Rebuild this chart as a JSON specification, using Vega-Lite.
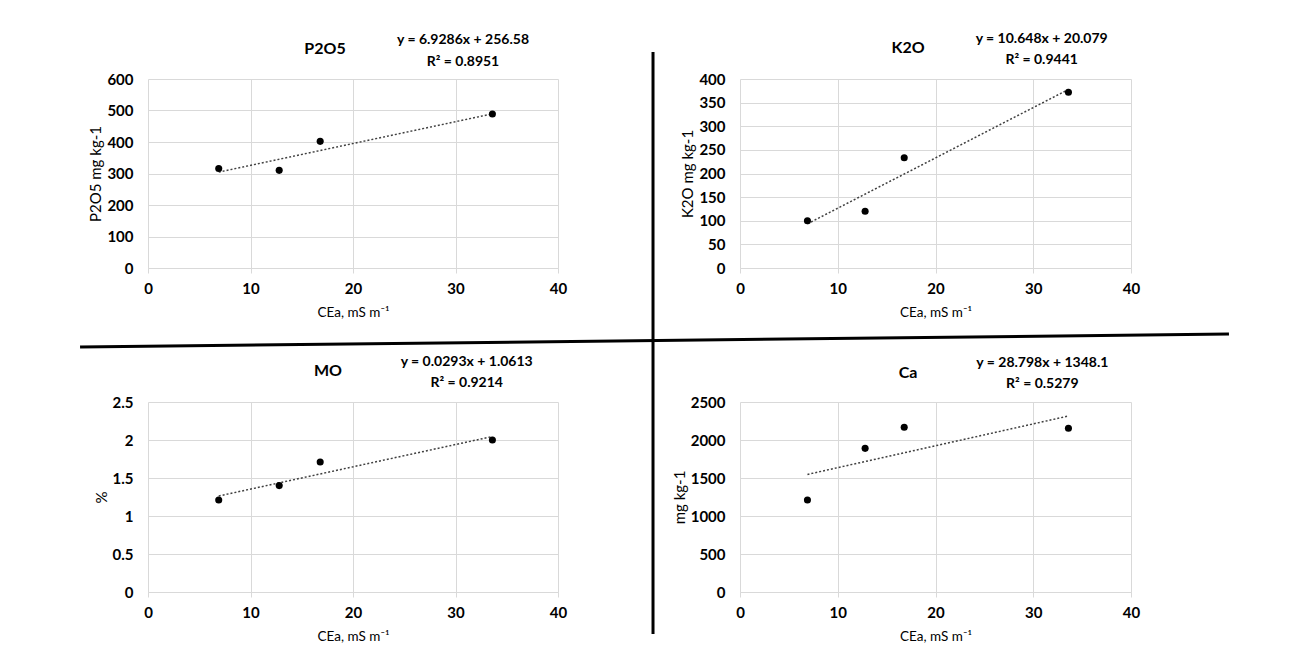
{
  "$schema": "https://vega.github.io/schema/vega-lite/v6.json",
  "background": "white",
  "padding": {"left": 78, "top": 31, "right": 5, "bottom": 5},
  "bounds": "flush",
  "columns": 2,
  "spacing": {"row": 134, "column": 182},
  "datasets": {
    "p2o5": [{"cea": 6.9, "val": 316}, {"cea": 12.8, "val": 310}, {"cea": 16.8, "val": 402}, {"cea": 33.6, "val": 489}],
    "p2o5_trend": [{"cea": 6.9, "val": 304.4}, {"cea": 33.6, "val": 489.4}],
    "k2o": [{"cea": 6.9, "val": 100}, {"cea": 12.8, "val": 120}, {"cea": 16.8, "val": 233.5}, {"cea": 33.6, "val": 372}],
    "k2o_trend": [{"cea": 6.9, "val": 93.5}, {"cea": 33.6, "val": 377.9}],
    "mo": [{"cea": 6.9, "val": 1.21}, {"cea": 12.8, "val": 1.4}, {"cea": 16.8, "val": 1.71}, {"cea": 33.6, "val": 2.0}],
    "mo_trend": [{"cea": 6.9, "val": 1.263}, {"cea": 33.6, "val": 2.046}],
    "ca": [{"cea": 6.9, "val": 1210}, {"cea": 12.8, "val": 1890}, {"cea": 16.8, "val": 2167}, {"cea": 33.6, "val": 2155}],
    "ca_trend": [{"cea": 6.9, "val": 1546.8}, {"cea": 33.6, "val": 2315.7}],
    "one": [{}]
  },
  "concat": [
    {
      "width": 410, "height": 189,
      "layer": [
        {"data": {"name": "p2o5_trend"}, "mark": {"type": "line", "strokeDash": [2, 2], "strokeWidth": 1.5, "color": "#404040"}, "encoding": {
          "x": {"field": "cea", "type": "quantitative", "scale": {"domain": [0, 40], "nice": false}, "axis": {"values": [0, 10, 20, 30, 40], "format": "d", "title": "CEa, mS m⁻¹"}},
          "y": {"field": "val", "type": "quantitative", "scale": {"domain": [0, 600], "nice": false}, "axis": {"values": [0, 100, 200, 300, 400, 500, 600], "format": "d", "titlePadding": 3, "title": "P2O5 mg kg-1"}}}},
        {"data": {"name": "p2o5"}, "mark": {"type": "circle", "size": 50, "color": "black", "opacity": 1}, "encoding": {
          "x": {"field": "cea", "type": "quantitative", "axis": {"values": [0, 10, 20, 30, 40], "format": "d", "title": "CEa, mS m⁻¹"}},
          "y": {"field": "val", "type": "quantitative", "axis": {"values": [0, 100, 200, 300, 400, 500, 600], "format": "d", "titlePadding": 3, "title": "P2O5 mg kg-1"}}}},
        {"data": {"name": "one"}, "mark": {"type": "text", "fontSize": 16}, "encoding": {
          "x": {"datum": 17.27, "axis": {"values": [0, 10, 20, 30, 40], "format": "d", "title": "CEa, mS m⁻¹"}},
          "y": {"datum": 695.2, "axis": {"values": [0, 100, 200, 300, 400, 500, 600], "format": "d", "titlePadding": 3, "title": "P2O5 mg kg-1"}},
          "text": {"value": "P2O5"}}},
        {"data": {"name": "one"}, "mark": {"type": "text"}, "encoding": {
          "x": {"datum": 30.73, "axis": {"values": [0, 10, 20, 30, 40], "format": "d", "title": "CEa, mS m⁻¹"}},
          "y": {"datum": 723.8, "axis": {"values": [0, 100, 200, 300, 400, 500, 600], "format": "d", "titlePadding": 3, "title": "P2O5 mg kg-1"}},
          "text": {"value": "y = 6.9286x + 256.58"}}},
        {"data": {"name": "one"}, "mark": {"type": "text"}, "encoding": {
          "x": {"datum": 30.73, "axis": {"values": [0, 10, 20, 30, 40], "format": "d", "title": "CEa, mS m⁻¹"}},
          "y": {"datum": 654, "axis": {"values": [0, 100, 200, 300, 400, 500, 600], "format": "d", "titlePadding": 3, "title": "P2O5 mg kg-1"}},
          "text": {"value": "R² = 0.8951"}}},
        {"data": {"name": "one"}, "mark": {"type": "rule", "color": "black", "strokeWidth": 3}, "encoding": {
          "x": {"datum": 49.27, "axis": {"values": [0, 10, 20, 30, 40], "format": "d", "title": "CEa, mS m⁻¹"}},
          "x2": {"datum": 49.27},
          "y": {"datum": 685.7, "axis": {"values": [0, 100, 200, 300, 400, 500, 600], "format": "d", "titlePadding": 3, "title": "P2O5 mg kg-1"}},
          "y2": {"datum": -1161.9}}},
        {"data": {"name": "one"}, "mark": {"type": "rule", "color": "black", "strokeWidth": 3}, "encoding": {
          "x": {"datum": -6.63, "axis": {"values": [0, 10, 20, 30, 40], "format": "d", "title": "CEa, mS m⁻¹"}},
          "x2": {"datum": 105.46},
          "y": {"datum": -250.8, "axis": {"values": [0, 100, 200, 300, 400, 500, 600], "format": "d", "titlePadding": 3, "title": "P2O5 mg kg-1"}},
          "y2": {"datum": -209.5}}}
      ]
    },
    {
      "width": 391, "height": 189,
      "layer": [
        {"data": {"name": "k2o_trend"}, "mark": {"type": "line", "strokeDash": [2, 2], "strokeWidth": 1.5, "color": "#404040"}, "encoding": {
          "x": {"field": "cea", "type": "quantitative", "scale": {"domain": [0, 40], "nice": false}, "axis": {"values": [0, 10, 20, 30, 40], "format": "d", "title": "CEa, mS m⁻¹"}},
          "y": {"field": "val", "type": "quantitative", "scale": {"domain": [0, 400], "nice": false}, "axis": {"values": [0, 50, 100, 150, 200, 250, 300, 350, 400], "format": "d", "titlePadding": 3, "title": "K2O mg kg-1"}}}},
        {"data": {"name": "k2o"}, "mark": {"type": "circle", "size": 50, "color": "black", "opacity": 1}, "encoding": {
          "x": {"field": "cea", "type": "quantitative", "axis": {"values": [0, 10, 20, 30, 40], "format": "d", "title": "CEa, mS m⁻¹"}},
          "y": {"field": "val", "type": "quantitative", "axis": {"values": [0, 50, 100, 150, 200, 250, 300, 350, 400], "format": "d", "titlePadding": 3, "title": "K2O mg kg-1"}}}},
        {"data": {"name": "one"}, "mark": {"type": "text", "fontSize": 16}, "encoding": {
          "x": {"datum": 17.2, "axis": {"values": [0, 10, 20, 30, 40], "format": "d", "title": "CEa, mS m⁻¹"}},
          "y": {"datum": 466.2, "axis": {"values": [0, 50, 100, 150, 200, 250, 300, 350, 400], "format": "d", "titlePadding": 3, "title": "K2O mg kg-1"}},
          "text": {"value": "K2O"}}},
        {"data": {"name": "one"}, "mark": {"type": "text"}, "encoding": {
          "x": {"datum": 30.86, "axis": {"values": [0, 10, 20, 30, 40], "format": "d", "title": "CEa, mS m⁻¹"}},
          "y": {"datum": 484.7, "axis": {"values": [0, 50, 100, 150, 200, 250, 300, 350, 400], "format": "d", "titlePadding": 3, "title": "K2O mg kg-1"}},
          "text": {"value": "y = 10.648x + 20.079"}}},
        {"data": {"name": "one"}, "mark": {"type": "text"}, "encoding": {
          "x": {"datum": 30.86, "axis": {"values": [0, 10, 20, 30, 40], "format": "d", "title": "CEa, mS m⁻¹"}},
          "y": {"datum": 440.2, "axis": {"values": [0, 50, 100, 150, 200, 250, 300, 350, 400], "format": "d", "titlePadding": 3, "title": "K2O mg kg-1"}},
          "text": {"value": "R² = 0.9441"}}}
      ]
    },
    {
      "width": 410, "height": 190,
      "layer": [
        {"data": {"name": "mo_trend"}, "mark": {"type": "line", "strokeDash": [2, 2], "strokeWidth": 1.5, "color": "#404040"}, "encoding": {
          "x": {"field": "cea", "type": "quantitative", "scale": {"domain": [0, 40], "nice": false}, "axis": {"values": [0, 10, 20, 30, 40], "format": "d", "title": "CEa, mS m⁻¹"}},
          "y": {"field": "val", "type": "quantitative", "scale": {"domain": [0, 2.5], "nice": false}, "axis": {"values": [0, 0.5, 1, 1.5, 2, 2.5], "format": ".1~f", "titlePadding": 3, "title": "%"}}}},
        {"data": {"name": "mo"}, "mark": {"type": "circle", "size": 50, "color": "black", "opacity": 1}, "encoding": {
          "x": {"field": "cea", "type": "quantitative", "axis": {"values": [0, 10, 20, 30, 40], "format": "d", "title": "CEa, mS m⁻¹"}},
          "y": {"field": "val", "type": "quantitative", "axis": {"values": [0, 0.5, 1, 1.5, 2, 2.5], "format": ".1~f", "titlePadding": 3, "title": "%"}}}},
        {"data": {"name": "one"}, "mark": {"type": "text", "fontSize": 16}, "encoding": {
          "x": {"datum": 17.56, "axis": {"values": [0, 10, 20, 30, 40], "format": "d", "title": "CEa, mS m⁻¹"}},
          "y": {"datum": 2.905, "axis": {"values": [0, 0.5, 1, 1.5, 2, 2.5], "format": ".1~f", "titlePadding": 3, "title": "%"}},
          "text": {"value": "MO"}}},
        {"data": {"name": "one"}, "mark": {"type": "text"}, "encoding": {
          "x": {"datum": 31.09, "axis": {"values": [0, 10, 20, 30, 40], "format": "d", "title": "CEa, mS m⁻¹"}},
          "y": {"datum": 3.029, "axis": {"values": [0, 0.5, 1, 1.5, 2, 2.5], "format": ".1~f", "titlePadding": 3, "title": "%"}},
          "text": {"value": "y = 0.0293x + 1.0613"}}},
        {"data": {"name": "one"}, "mark": {"type": "text"}, "encoding": {
          "x": {"datum": 31.09, "axis": {"values": [0, 10, 20, 30, 40], "format": "d", "title": "CEa, mS m⁻¹"}},
          "y": {"datum": 2.753, "axis": {"values": [0, 0.5, 1, 1.5, 2, 2.5], "format": ".1~f", "titlePadding": 3, "title": "%"}},
          "text": {"value": "R² = 0.9214"}}}
      ]
    },
    {
      "width": 391, "height": 190,
      "layer": [
        {"data": {"name": "ca_trend"}, "mark": {"type": "line", "strokeDash": [2, 2], "strokeWidth": 1.5, "color": "#404040"}, "encoding": {
          "x": {"field": "cea", "type": "quantitative", "scale": {"domain": [0, 40], "nice": false}, "axis": {"values": [0, 10, 20, 30, 40], "format": "d", "title": "CEa, mS m⁻¹"}},
          "y": {"field": "val", "type": "quantitative", "scale": {"domain": [0, 2500], "nice": false}, "axis": {"values": [0, 500, 1000, 1500, 2000, 2500], "format": "d", "titlePadding": 3, "title": "mg kg-1"}}}},
        {"data": {"name": "ca"}, "mark": {"type": "circle", "size": 50, "color": "black", "opacity": 1}, "encoding": {
          "x": {"field": "cea", "type": "quantitative", "axis": {"values": [0, 10, 20, 30, 40], "format": "d", "title": "CEa, mS m⁻¹"}},
          "y": {"field": "val", "type": "quantitative", "axis": {"values": [0, 500, 1000, 1500, 2000, 2500], "format": "d", "titlePadding": 3, "title": "mg kg-1"}}}},
        {"data": {"name": "one"}, "mark": {"type": "text", "fontSize": 16}, "encoding": {
          "x": {"datum": 17.2, "axis": {"values": [0, 10, 20, 30, 40], "format": "d", "title": "CEa, mS m⁻¹"}},
          "y": {"datum": 2888, "axis": {"values": [0, 500, 1000, 1500, 2000, 2500], "format": "d", "titlePadding": 3, "title": "mg kg-1"}},
          "text": {"value": "Ca"}}},
        {"data": {"name": "one"}, "mark": {"type": "text"}, "encoding": {
          "x": {"datum": 30.93, "axis": {"values": [0, 10, 20, 30, 40], "format": "d", "title": "CEa, mS m⁻¹"}},
          "y": {"datum": 3016, "axis": {"values": [0, 500, 1000, 1500, 2000, 2500], "format": "d", "titlePadding": 3, "title": "mg kg-1"}},
          "text": {"value": "y = 28.798x + 1348.1"}}},
        {"data": {"name": "one"}, "mark": {"type": "text"}, "encoding": {
          "x": {"datum": 30.93, "axis": {"values": [0, 10, 20, 30, 40], "format": "d", "title": "CEa, mS m⁻¹"}},
          "y": {"datum": 2739, "axis": {"values": [0, 500, 1000, 1500, 2000, 2500], "format": "d", "titlePadding": 3, "title": "mg kg-1"}},
          "text": {"value": "R² = 0.5279"}}}
      ]
    }
  ],
  "config": {
    "view": {"stroke": null},
    "font": "Lato",
    "text": {"font": "Lato", "fontSize": 14, "fontWeight": "bold", "color": "#000000", "align": "center", "baseline": "middle"},
    "axis": {
      "gridColor": "#d9d9d9", "domainColor": "#d9d9d9", "tickColor": "#d9d9d9",
      "labelFont": "Lato", "labelFontWeight": "bold", "labelFontSize": 15, "labelColor": "#000000",
      "titleFont": "Lato", "titleFontWeight": "normal", "titleFontSize": 13.5, "titleColor": "#000000",
      "labelOverlap": false
    },
    "axisX": {"tickSize": 5, "labelPadding": 8, "titlePadding": 9, "labelFlush": false},
    "axisY": {"ticks": false, "domain": false, "labelPadding": 15, "titleFontSize": 15}
  }
}
